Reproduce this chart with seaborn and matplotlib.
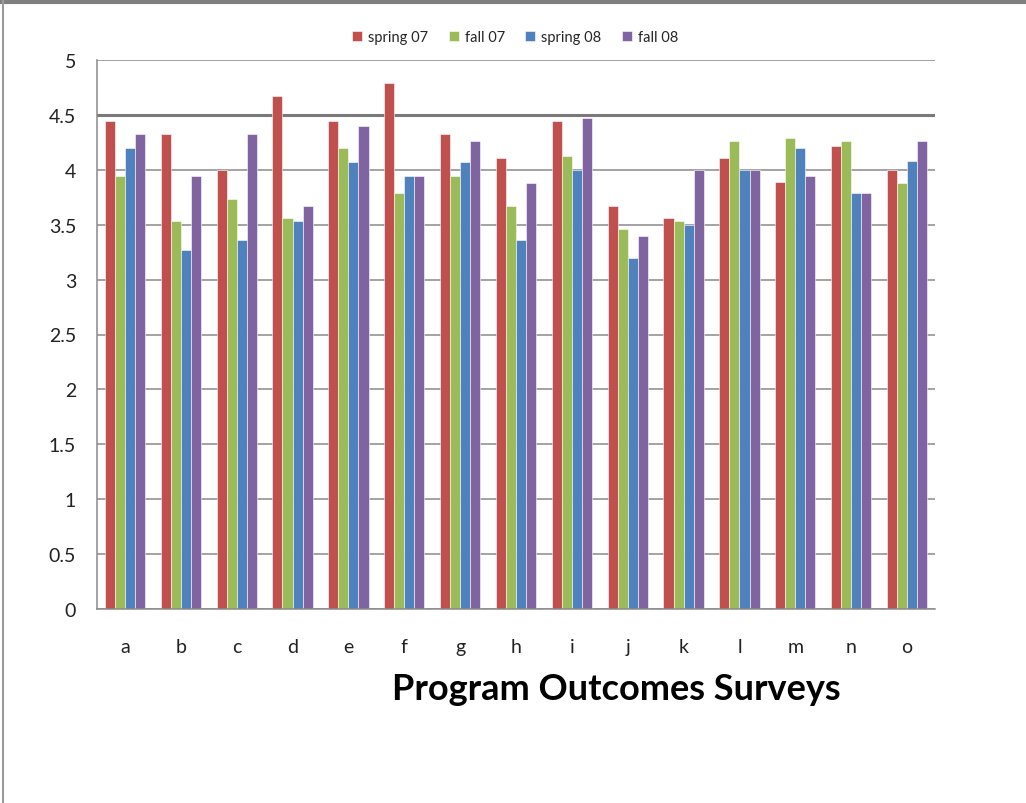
import pandas as pd
import numpy as np
import seaborn as sns
import matplotlib.pyplot as plt
from matplotlib.lines import Line2D
from matplotlib.ticker import FixedLocator

# Survey data
outcomes = list("abcdefghijklmno")
spring_07 = [4.44, 4.33, 4.00, 4.67, 4.44, 4.79, 4.33, 4.11, 4.44, 3.67, 3.56, 4.11, 3.89, 4.22, 4.00]
fall_07 = [3.94, 3.53, 3.73, 3.56, 4.20, 3.79, 3.94, 3.67, 4.13, 3.46, 3.53, 4.26, 4.29, 4.26, 3.88]
spring_08 = [4.20, 3.27, 3.36, 3.53, 4.07, 3.94, 4.07, 3.36, 4.00, 3.20, 3.50, 4.00, 4.20, 3.79, 4.08]
fall_08 = [4.33, 3.94, 4.33, 3.67, 4.40, 3.94, 4.26, 3.88, 4.47, 3.40, 4.00, 4.00, 3.94, 3.79, 4.26]
semesters = ["spring 07", "fall 07", "spring 08", "fall 08"]
colors = ["#C0504D", "#9BBB59", "#4F81BD", "#8064A2"]
y_ticks = [0, 0.5, 1, 1.5, 2, 2.5, 3, 3.5, 4, 4.5, 5]
y_labels = ["0", "0.5", "1", "1.5", "2", "2.5", "3", "3.5", "4", "4.5", "5"]

# long format for seaborn
df = pd.DataFrame({
    "outcome": outcomes * 4,
    "semester": np.repeat(semesters, len(outcomes)),
    "score": spring_07 + fall_07 + spring_08 + fall_08,
})

sns.set_style("white")
plt.rcParams['font.family'] = ['Lato', 'DejaVu Sans']

fig = plt.figure(figsize=(10.26, 8.04), dpi=100)
ax = fig.add_axes([97 / 1026, 1 - 610 / 804, (935 - 97) / 1026, (610 - 61) / 804])

sns.barplot(data=df, x="outcome", y="score", hue="semester", palette=colors,
            width=0.72, ax=ax, edgecolor="white", linewidth=0.4, saturation=1)

ax.set_xlim(-0.5, len(outcomes) - 0.5)
ax.set_yticks(y_ticks, y_labels)
ax.set_ylim(0, 5)
ax.grid(axis="y", color="#8a8a8a", linewidth=1.1)
# the 4.5 line is drawn heavier in the original
ax.yaxis.get_gridlines()[9].set_linewidth(2.2)
ax.yaxis.get_gridlines()[9].set_color("#7a7a7a")
ax.set_axisbelow(True)
for s in ["top", "right"]:
    ax.spines[s].set_visible(False)
for s in ["left", "bottom"]:
    ax.spines[s].set_color("#8a8a8a")
    ax.spines[s].set_linewidth(1.1)

# category boundary ticks on x, labels centred under groups
ax.xaxis.set_minor_locator(FixedLocator(np.arange(-0.5, len(outcomes), 1.0)))
ax.tick_params(axis="x", which="minor", length=8, color="#8a8a8a", width=1)
ax.tick_params(axis="x", which="major", length=0, pad=21, labelsize=14, labelcolor="#222222")
ax.tick_params(axis="y", length=7, color="#8a8a8a", width=1, pad=8, labelsize=14, labelcolor="#222222")
ax.set_xlabel("")
ax.set_ylabel("")

ax.legend(loc="center", bbox_to_anchor=(515 / 1026, 1 - 38 / 804), bbox_transform=fig.transFigure,
          ncol=4, frameon=False, fontsize=10.5, handlelength=0.7, handleheight=0.7,
          handletextpad=0.4, columnspacing=1.4)

fig.text(616 / 1026, 1 - 690 / 804, "Program Outcomes Surveys", ha="center", va="center",
         fontsize=26, fontweight="bold", color="black")

# window border from the screenshot
fig.add_artist(Line2D([0, 1], [1 - 3 / 804, 1 - 3 / 804], transform=fig.transFigure, color="#7f7f7f", linewidth=3))
fig.add_artist(Line2D([3 / 1026, 3 / 1026], [0, 1], transform=fig.transFigure, color="#9a9a9a", linewidth=1.5))

fig.savefig("out.png", dpi=100)
